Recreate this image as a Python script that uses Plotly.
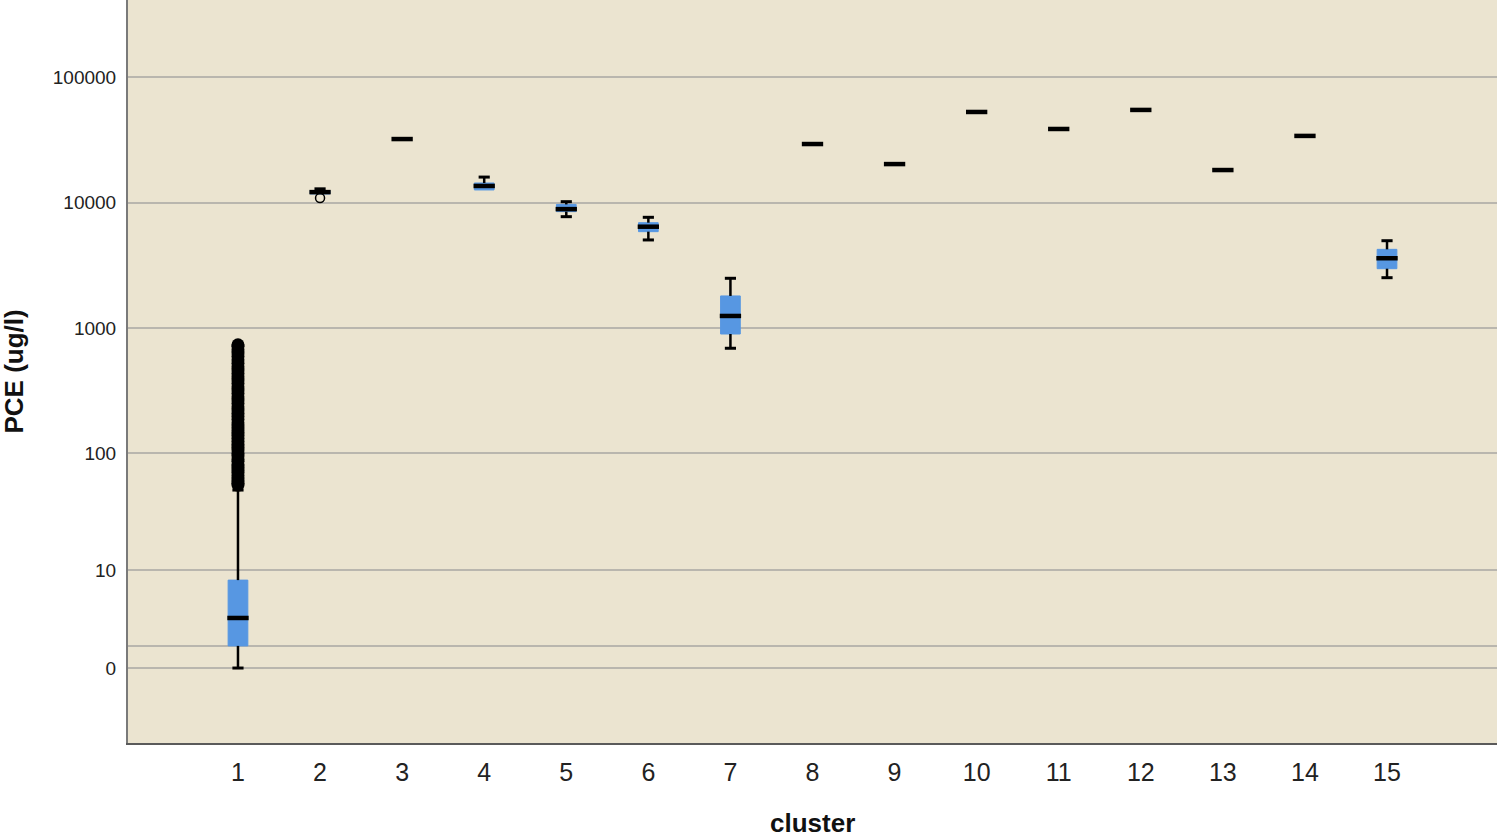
import plotly.graph_objects as go

# ---------------- data ----------------
clusters = list(range(1, 16))
tick_labels = [str(c) for c in clusters]

lower_fence = [0, 11750, 32100, 12640, 7750, 5060, 695, 29300, 20300, 52700, 38600, 54700, 18200, 34000, 2535]
q1_vals     = [1, 11750, 32100, 12640, 8500, 5890, 903, 29300, 20300, 52700, 38600, 54700, 18200, 34000, 2990]
median_vals = [3, 12150, 32100, 13600, 8900, 6450, 1257, 29300, 20300, 52700, 38600, 54700, 18200, 34000, 3620]
q3_vals     = [8, 12500, 32100, 14360, 9700, 6940, 1814, 29300, 20300, 52700, 38600, 54700, 18200, 34000, 4260]
upper_fence = [50, 12900, 32100, 16000, 10200, 7660, 2507, 29300, 20300, 52700, 38600, 54700, 18200, 34000, 4990]

# outliers of cluster 1 (dense column) and cluster 2 (single open circle)
outliers_c1 = [55, 57, 60, 63, 66, 70, 73, 77, 81, 86, 90, 95, 100, 106, 112, 118, 125,
               132, 140, 148, 157, 166, 176, 187, 198, 210, 223, 237, 252, 268, 285,
               303, 322, 342, 364, 387, 412, 438, 466, 496, 528, 562, 598, 636, 677, 720, 740]
outliers_c2 = [10900]

y_tick_values = [0, 1, 10, 100, 1000, 10000, 100000]
y_tick_text = ["0", "", "10", "100", "1000", "10000", "100000"]

# the axis is a shifted log scale: log10(value + OFFSET)
OFFSET = 2

BOX_BLUE = "#5797E2"
BG = "#EBE4D0"
FONT = "Liberation Sans, Arial, sans-serif"

def sh(v):
    return v + OFFSET

fig = go.Figure()

# blue boxes
fig.add_trace(go.Box(
    x=clusters,
    q1=[sh(v) for v in q1_vals],
    median=[sh(v) for v in median_vals],
    q3=[sh(v) for v in q3_vals],
    lowerfence=[sh(v) for v in q1_vals],
    upperfence=[sh(v) for v in q3_vals],
    width=0.24,
    fillcolor=BOX_BLUE,
    line=dict(color=BOX_BLUE, width=1),
    whiskerwidth=0,
    boxpoints=False,
    hoverinfo="skip",
    showlegend=False,
))

# whiskers, caps and medians in black
wx, wy, cx, cy, mx, my = [], [], [], [], [], []
CAP = 0.068
MED = 0.13
for c, lf, a, m, b, uf in zip(clusters, lower_fence, q1_vals, median_vals, q3_vals, upper_fence):
    if lf < a:
        wx += [c, c, None]
        wy += [sh(lf), sh(a), None]
        cx += [c - CAP, c + CAP, None]
        cy += [sh(lf), sh(lf), None]
    if uf > b:
        wx += [c, c, None]
        wy += [sh(b), sh(uf), None]
        cx += [c - CAP, c + CAP, None]
        cy += [sh(uf), sh(uf), None]
    mx += [c - MED, c + MED, None]
    my += [sh(m), sh(m), None]

fig.add_trace(go.Scatter(x=wx, y=wy, mode="lines", line=dict(color="black", width=2.5),
                         hoverinfo="skip", showlegend=False))
fig.add_trace(go.Scatter(x=cx, y=cy, mode="lines", line=dict(color="black", width=3),
                         hoverinfo="skip", showlegend=False))
fig.add_trace(go.Scatter(x=mx, y=my, mode="lines", line=dict(color="black", width=4.5),
                         hoverinfo="skip", showlegend=False))

# outliers
fig.add_trace(go.Scatter(x=[1] * len(outliers_c1), y=[sh(v) for v in outliers_c1], mode="markers",
                         marker=dict(color="black", size=13, symbol="circle"),
                         hoverinfo="skip", showlegend=False))
fig.add_trace(go.Scatter(x=[2] * len(outliers_c2), y=[sh(v) for v in outliers_c2], mode="markers",
                         marker=dict(color="black", size=9, symbol="circle-open", line=dict(width=1.5)),
                         hoverinfo="skip", showlegend=False))

fig.update_layout(
    width=1500, height=839,
    margin=dict(l=128, r=3, t=0, b=96),
    paper_bgcolor="white",
    plot_bgcolor=BG,
    font=dict(family=FONT, color="#222"),
    showlegend=False,
)

fig.update_xaxes(
    range=[-0.34, 16.34],
    tickmode="array", tickvals=clusters, ticktext=tick_labels,
    tickfont=dict(size=25, color="#222", family=FONT),
    showgrid=False, zeroline=False,
    showline=True, linecolor="#5a5a5a", linewidth=2,
    ticks="", ticklabelstandoff=6,
)

fig.update_yaxes(
    type="log",
    range=[-0.295, 5.612],
    tickmode="array", tickvals=[sh(v) for v in y_tick_values], ticktext=y_tick_text,
    tickfont=dict(size=19, color="#222", family=FONT),
    showgrid=True, gridcolor="#B9B6AE", gridwidth=1.5,
    zeroline=False,
    showline=True, linecolor="#7a7a7a", linewidth=2,
    ticks="", ticklabelstandoff=6,
)

fig.add_annotation(text="<b>PCE (ug/l)</b>", textangle=-90,
                   xref="paper", yref="paper", x=(13 - 128) / 1369, y=0.5,
                   xanchor="center", yanchor="middle", showarrow=False,
                   font=dict(size=26, color="#111", family=FONT))
fig.add_annotation(text="<b>cluster</b>",
                   xref="paper", yref="paper", x=0.5, y=(743 - 823) / 743,
                   xanchor="center", yanchor="middle", showarrow=False,
                   font=dict(size=26, color="#111", family=FONT))

fig.write_html("out.html", config={"displayModeBar": False},
               post_script="document.body.style.margin='0';")
